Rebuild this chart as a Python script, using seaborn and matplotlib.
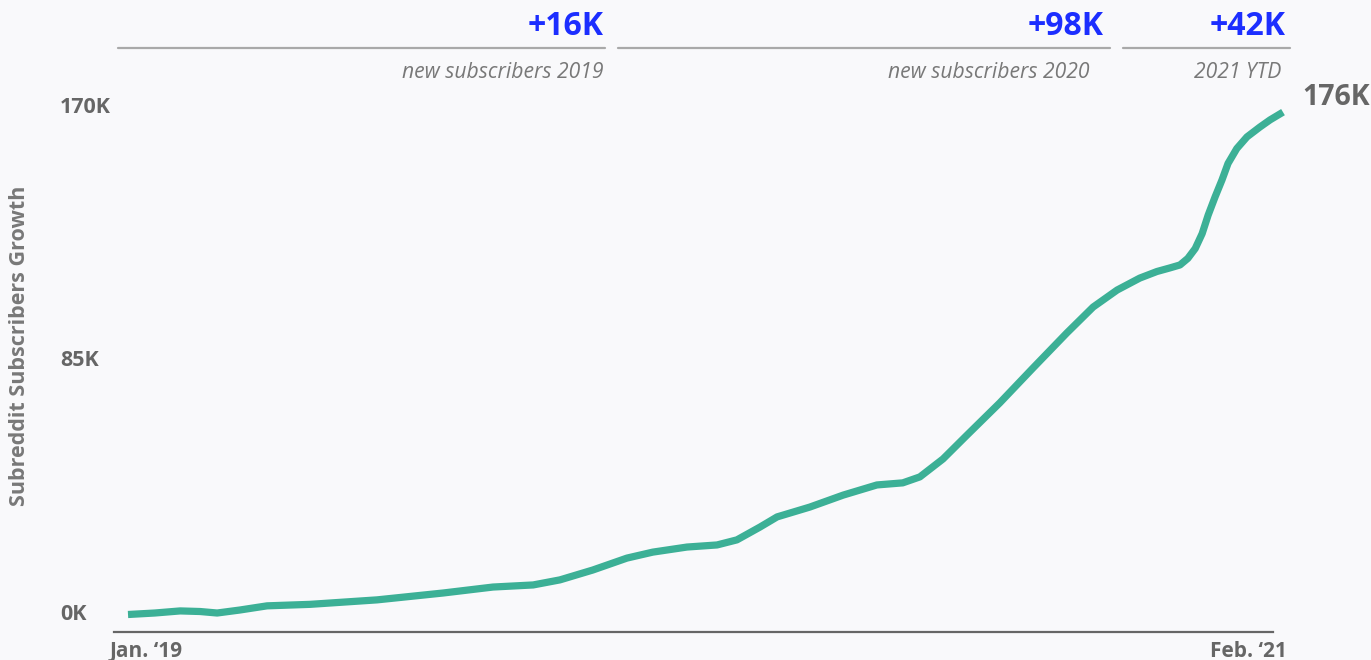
import matplotlib
matplotlib.use("Agg")
import matplotlib.pyplot as plt
from matplotlib.lines import Line2D
import seaborn as sns
import pandas as pd

# Months since Jan. 2019 and subscriber counts (thousands)
months = [0.00, 0.58, 1.13, 1.56, 1.93, 2.42, 3.01, 3.94, 5.39, 6.82, 7.90,
          8.77, 9.35, 10.06, 10.80, 11.36, 12.10, 12.75, 13.18, 13.68, 14.05,
          14.76, 15.48, 16.21, 16.77, 17.14, 17.64, 18.16, 18.87, 19.59,
          20.32, 20.89, 21.41, 21.90, 22.27, 22.55, 22.77, 22.94, 23.10,
          23.25, 23.38, 23.53, 23.68, 23.81, 24.00, 24.22, 24.50, 24.72, 25.00]
subscribers_k = [0.0, 0.5, 1.2, 1.0, 0.5, 1.5, 2.9, 3.4, 4.9, 7.2, 9.2,
                 9.9, 11.6, 14.9, 18.9, 20.9, 22.6, 23.3, 25.0, 29.3, 32.7,
                 36.0, 40.0, 43.4, 44.1, 46.1, 52.1, 60.1, 70.9, 82.6,
                 94.3, 103.0, 108.7, 112.7, 114.9, 116.1, 117.1, 119.3, 122.6,
                 127.6, 133.8, 139.9, 145.6, 151.1, 156.1, 160.0, 163.3, 165.7, 168.3]

ytick_values = [0, 85, 170]
ytick_labels = ["0K", "85K", "170K"]
xtick_labels = ["Jan. \u201819", "Feb. \u201821"]
period_totals = ["+16K", "+98K", "+42K"]
period_names = ["new subscribers 2019", "new subscribers 2020", "2021 YTD"]
last_value_label = "176K"
ylabel = "Subreddit Subscribers Growth"

BG = "#f9f9fb"
TEAL = "#3cb096"
BLUE = "#1c2eff"
GRAY = "#666666"
GRAY2 = "#787878"

sns.set_theme(style="white")
plt.rcParams["font.family"] = ["Open Sans", "DejaVu Sans"]

W, H = 1371, 660
fig = plt.figure(figsize=(W / 100, H / 100), dpi=100, facecolor=BG)

def fx(px):
    return px / W

def fy(py):
    return 1 - py / H

ax = fig.add_axes([fx(114), fy(632), fx(1290) - fx(114), fy(100) - fy(632)])
ax.set_facecolor(BG)

df = pd.DataFrame({"month": months, "subs": subscribers_k})
sns.lineplot(data=df, x="month", y="subs", ax=ax, color=TEAL, linewidth=5.2,
             solid_capstyle="butt", solid_joinstyle="round", clip_on=False)

px_per_month = 46.2
x_left = (114 - 128) / px_per_month
x_right = (1290 - 128) / px_per_month
ax.set_xlim(x_left, x_right)
px_per_k = 2.985
ax.set_ylim(-(632 - 614.5) / px_per_k, (614.5 - 100) / px_per_k)

for s in ["top", "right", "left"]:
    ax.spines[s].set_visible(False)
ax.spines["bottom"].set_color(GRAY)
ax.spines["bottom"].set_linewidth(1.6)
ax.spines["bottom"].set_bounds(x_left, (1273 - 128) / px_per_month)
ax.set_xticks([])
ax.set_yticks([])
ax.set_xlabel("")
ax.set_ylabel("")

# y tick labels (left aligned)
ytr = ax.get_yaxis_transform()
for v, lab in zip(ytick_values, ytick_labels):
    ax.text((60 - 114) / (1290 - 114), v, lab, transform=ytr, ha="left",
            va="center", fontsize=15.5, fontweight="bold", color=GRAY)

# x labels
fig.text(fx(110), fy(657), xtick_labels[0], ha="left", va="baseline",
         fontsize=15, fontweight="bold", color=GRAY)
fig.text(fx(1210), fy(657), xtick_labels[1], ha="left", va="baseline",
         fontsize=15, fontweight="bold", color=GRAY)

# y axis title
fig.text(fx(20), fy(346), ylabel, rotation=90, ha="center", va="center",
         fontsize=15.5, fontweight="bold", color=GRAY2)

# header blocks
segments = [(118, 605), (618, 1110), (1123, 1290)]
total_right = [604, 1104, 1286]
name_right = [603, 1090, 1281]
for (x0, x1), tot, tr, name, nr in zip(segments, period_totals, total_right,
                                       period_names, name_right):
    fig.add_artist(Line2D([fx(x0), fx(x1)], [fy(48), fy(48)],
                          transform=fig.transFigure, color="#a9a9a9", lw=1.6))
    fig.text(fx(tr), fy(35), tot, ha="right", va="baseline", fontsize=23,
             fontweight="bold", color=BLUE)
    fig.text(fx(nr), fy(78), name, ha="right", va="baseline", fontsize=15.2,
             fontstyle="italic", color=GRAY2)

# last value label
fig.text(fx(1302), fy(105), last_value_label, ha="left", va="baseline",
         fontsize=20.5, fontweight="bold", color=GRAY)

fig.savefig("out.png", dpi=100, facecolor=BG)
